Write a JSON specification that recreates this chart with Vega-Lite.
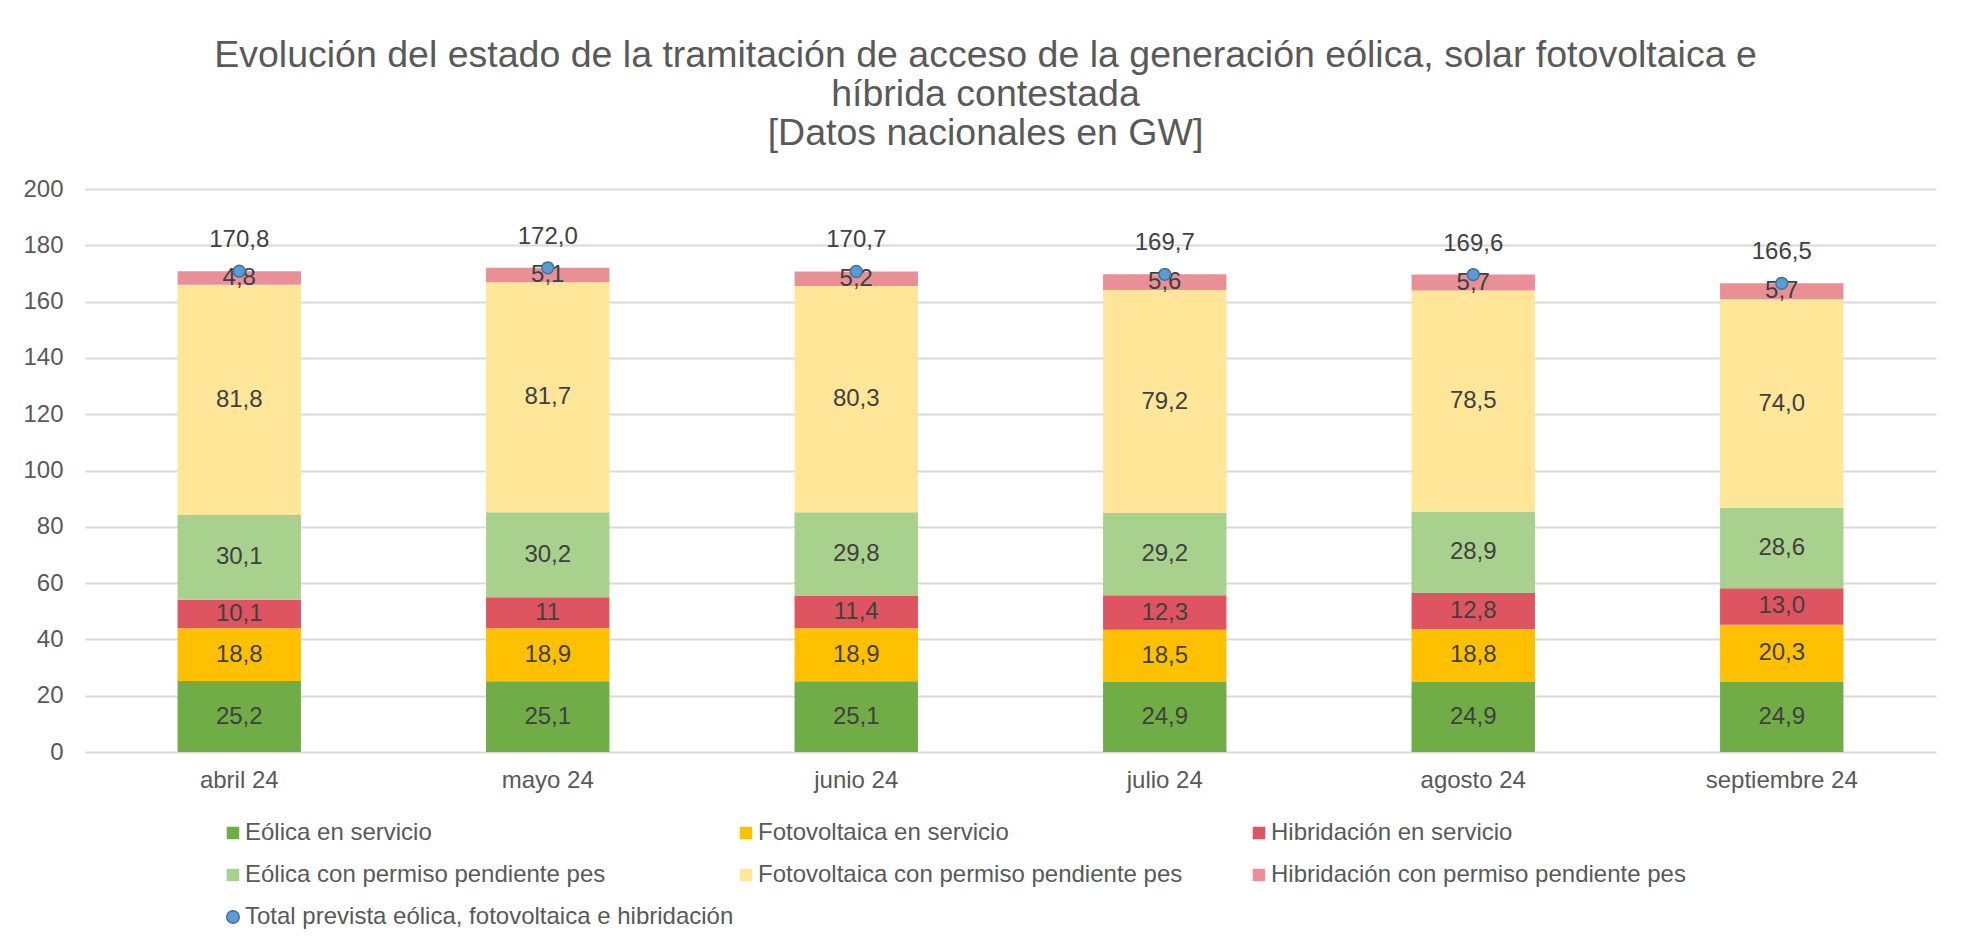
{
  "$schema": "https://vega.github.io/schema/vega-lite/v6.json",
  "width": 1851,
  "height": 563,
  "autosize": {"type": "none"},
  "padding": {"left": 85, "top": 189, "right": 37, "bottom": 194},
  "background": "white",
  "config": {
    "font": "Liberation Sans",
    "view": {"stroke": null},
    "axis": {"labelFont": "Liberation Sans", "labelColor": "#595959", "labelFontSize": 24, "title": null},
    "axisX": {"domain": false, "ticks": false, "labelPadding": 16, "grid": false, "labelAngle": 0},
    "axisY": {"domain": false, "ticks": false, "labelPadding": 22, "grid": true, "gridColor": "#D9D9D9", "gridWidth": 2},
    "legend": {
      "orient": "none", "legendX": 136, "legendY": 632, "direction": "horizontal", "columns": 3,
      "gridAlign": "all", "columnPadding": -14, "rowPadding": 18, "padding": 0,
      "labelFont": "Liberation Sans", "labelFontSize": 24, "labelColor": "#595959", "labelLimit": 700,
      "labelOffset": 0, "symbolSize": 156, "symbolType": "square", "title": null
    }
  },
  "title": {
    "text": ["Evolución del estado de la tramitación de acceso de la generación eólica, solar fotovoltaica e", "híbrida contestada", "[Datos nacionales en GW]"],
    "font": "Liberation Sans", "fontSize": 37.5, "fontWeight": "normal", "color": "#595959",
    "lineHeight": 39, "anchor": "middle", "frame": "group", "dx": -25, "offset": -13, "baseline": "bottom"
  },
  "datasets": {
    "barras": [
      {"mes": "abril 24", "serie": "Eólica  en servicio", "orden": 1, "valor": 25.2, "etiqueta": "25,2"},
      {"mes": "abril 24", "serie": "Fotovoltaica  en servicio", "orden": 2, "valor": 18.8, "etiqueta": "18,8"},
      {"mes": "abril 24", "serie": "Hibridación  en servicio", "orden": 3, "valor": 10.1, "etiqueta": "10,1"},
      {"mes": "abril 24", "serie": "Eólica  con permiso pendiente pes", "orden": 4, "valor": 30.1, "etiqueta": "30,1"},
      {"mes": "abril 24", "serie": "Fotovoltaica  con permiso pendiente pes", "orden": 5, "valor": 81.8, "etiqueta": "81,8"},
      {"mes": "abril 24", "serie": "Hibridación  con permiso pendiente pes", "orden": 6, "valor": 4.8, "etiqueta": "4,8"},
      {"mes": "mayo 24", "serie": "Eólica  en servicio", "orden": 1, "valor": 25.1, "etiqueta": "25,1"},
      {"mes": "mayo 24", "serie": "Fotovoltaica  en servicio", "orden": 2, "valor": 18.9, "etiqueta": "18,9"},
      {"mes": "mayo 24", "serie": "Hibridación  en servicio", "orden": 3, "valor": 11, "etiqueta": "11"},
      {"mes": "mayo 24", "serie": "Eólica  con permiso pendiente pes", "orden": 4, "valor": 30.2, "etiqueta": "30,2"},
      {"mes": "mayo 24", "serie": "Fotovoltaica  con permiso pendiente pes", "orden": 5, "valor": 81.7, "etiqueta": "81,7"},
      {"mes": "mayo 24", "serie": "Hibridación  con permiso pendiente pes", "orden": 6, "valor": 5.1, "etiqueta": "5,1"},
      {"mes": "junio 24", "serie": "Eólica  en servicio", "orden": 1, "valor": 25.1, "etiqueta": "25,1"},
      {"mes": "junio 24", "serie": "Fotovoltaica  en servicio", "orden": 2, "valor": 18.9, "etiqueta": "18,9"},
      {"mes": "junio 24", "serie": "Hibridación  en servicio", "orden": 3, "valor": 11.4, "etiqueta": "11,4"},
      {"mes": "junio 24", "serie": "Eólica  con permiso pendiente pes", "orden": 4, "valor": 29.8, "etiqueta": "29,8"},
      {"mes": "junio 24", "serie": "Fotovoltaica  con permiso pendiente pes", "orden": 5, "valor": 80.3, "etiqueta": "80,3"},
      {"mes": "junio 24", "serie": "Hibridación  con permiso pendiente pes", "orden": 6, "valor": 5.2, "etiqueta": "5,2"},
      {"mes": "julio 24", "serie": "Eólica  en servicio", "orden": 1, "valor": 24.9, "etiqueta": "24,9"},
      {"mes": "julio 24", "serie": "Fotovoltaica  en servicio", "orden": 2, "valor": 18.5, "etiqueta": "18,5"},
      {"mes": "julio 24", "serie": "Hibridación  en servicio", "orden": 3, "valor": 12.3, "etiqueta": "12,3"},
      {"mes": "julio 24", "serie": "Eólica  con permiso pendiente pes", "orden": 4, "valor": 29.2, "etiqueta": "29,2"},
      {"mes": "julio 24", "serie": "Fotovoltaica  con permiso pendiente pes", "orden": 5, "valor": 79.2, "etiqueta": "79,2"},
      {"mes": "julio 24", "serie": "Hibridación  con permiso pendiente pes", "orden": 6, "valor": 5.6, "etiqueta": "5,6"},
      {"mes": "agosto 24", "serie": "Eólica  en servicio", "orden": 1, "valor": 24.9, "etiqueta": "24,9"},
      {"mes": "agosto 24", "serie": "Fotovoltaica  en servicio", "orden": 2, "valor": 18.8, "etiqueta": "18,8"},
      {"mes": "agosto 24", "serie": "Hibridación  en servicio", "orden": 3, "valor": 12.8, "etiqueta": "12,8"},
      {"mes": "agosto 24", "serie": "Eólica  con permiso pendiente pes", "orden": 4, "valor": 28.9, "etiqueta": "28,9"},
      {"mes": "agosto 24", "serie": "Fotovoltaica  con permiso pendiente pes", "orden": 5, "valor": 78.5, "etiqueta": "78,5"},
      {"mes": "agosto 24", "serie": "Hibridación  con permiso pendiente pes", "orden": 6, "valor": 5.7, "etiqueta": "5,7"},
      {"mes": "septiembre 24", "serie": "Eólica  en servicio", "orden": 1, "valor": 24.9, "etiqueta": "24,9"},
      {"mes": "septiembre 24", "serie": "Fotovoltaica  en servicio", "orden": 2, "valor": 20.3, "etiqueta": "20,3"},
      {"mes": "septiembre 24", "serie": "Hibridación  en servicio", "orden": 3, "valor": 13.0, "etiqueta": "13,0"},
      {"mes": "septiembre 24", "serie": "Eólica  con permiso pendiente pes", "orden": 4, "valor": 28.6, "etiqueta": "28,6"},
      {"mes": "septiembre 24", "serie": "Fotovoltaica  con permiso pendiente pes", "orden": 5, "valor": 74.0, "etiqueta": "74,0"},
      {"mes": "septiembre 24", "serie": "Hibridación  con permiso pendiente pes", "orden": 6, "valor": 5.7, "etiqueta": "5,7"}
    ],
    "totales": [
      {"mes": "abril 24", "serie": "Total prevista eólica, fotovoltaica e hibridación", "valor": 170.8, "etiqueta": "170,8"},
      {"mes": "mayo 24", "serie": "Total prevista eólica, fotovoltaica e hibridación", "valor": 172.0, "etiqueta": "172,0"},
      {"mes": "junio 24", "serie": "Total prevista eólica, fotovoltaica e hibridación", "valor": 170.7, "etiqueta": "170,7"},
      {"mes": "julio 24", "serie": "Total prevista eólica, fotovoltaica e hibridación", "valor": 169.7, "etiqueta": "169,7"},
      {"mes": "agosto 24", "serie": "Total prevista eólica, fotovoltaica e hibridación", "valor": 169.6, "etiqueta": "169,6"},
      {"mes": "septiembre 24", "serie": "Total prevista eólica, fotovoltaica e hibridación", "valor": 166.5, "etiqueta": "166,5"}
    ]
  },
  "layer": [
    {
      "data": {"name": "barras"},
      "transform": [
        {"stack": "valor", "groupby": ["mes"], "sort": [{"field": "orden", "order": "ascending"}], "as": ["v0", "v1"]},
        {"calculate": "(datum.v0 + datum.v1) / 2", "as": "vmedio"}
      ],
      "layer": [
        {
          "mark": {"type": "bar"},
          "encoding": {
            "x": {"field": "mes", "type": "nominal", "scale": {"domain": ["abril 24", "mayo 24", "junio 24", "julio 24", "agosto 24", "septiembre 24"], "paddingInner": 0.6, "paddingOuter": 0.3}},
            "y": {"field": "v0", "type": "quantitative", "scale": {"domain": [0, 200], "nice": false}, "axis": {"values": [0, 20, 40, 60, 80, 100, 120, 140, 160, 180, 200]}},
            "y2": {"field": "v1"},
            "color": {
              "field": "serie", "type": "nominal",
              "scale": {
                "domain": ["Eólica  en servicio", "Fotovoltaica  en servicio", "Hibridación  en servicio", "Eólica  con permiso pendiente pes", "Fotovoltaica  con permiso pendiente pes", "Hibridación  con permiso pendiente pes", "Total prevista eólica, fotovoltaica e hibridación"],
                "range": ["#70AD47", "#FFC000", "#DE5561", "#A9D18E", "#FFE699", "#E99096", "#5B9BD5"]
              },
              "legend": {
                "encode": {
                  "symbols": {
                    "update": {
                      "shape": {"signal": "datum.value === 'Total prevista eólica, fotovoltaica e hibridación' ? 'circle' : 'square'"},
                      "stroke": {"signal": "datum.value === 'Total prevista eólica, fotovoltaica e hibridación' ? '#41719C' : 'transparent'"},
                      "strokeWidth": {"value": 1.5}
                    }
                  }
                }
              }
            }
          }
        },
        {
          "mark": {"type": "text", "fontSize": 24, "color": "#404040", "baseline": "middle", "align": "center"},
          "encoding": {
            "x": {"field": "mes", "type": "nominal"},
            "y": {"field": "vmedio", "type": "quantitative"},
            "text": {"field": "etiqueta"}
          }
        }
      ]
    },
    {
      "data": {"name": "totales"},
      "layer": [
        {
          "mark": {"type": "point", "filled": true, "shape": "circle", "size": 140, "stroke": "#41719C", "strokeWidth": 1.5, "opacity": 1},
          "encoding": {
            "x": {"field": "mes", "type": "nominal"},
            "y": {"field": "valor", "type": "quantitative"},
            "color": {"field": "serie", "type": "nominal"}
          }
        },
        {
          "mark": {"type": "text", "fontSize": 24, "color": "#404040", "baseline": "middle", "align": "center", "dy": -31},
          "encoding": {
            "x": {"field": "mes", "type": "nominal"},
            "y": {"field": "valor", "type": "quantitative"},
            "text": {"field": "etiqueta"}
          }
        }
      ]
    }
  ]
}
